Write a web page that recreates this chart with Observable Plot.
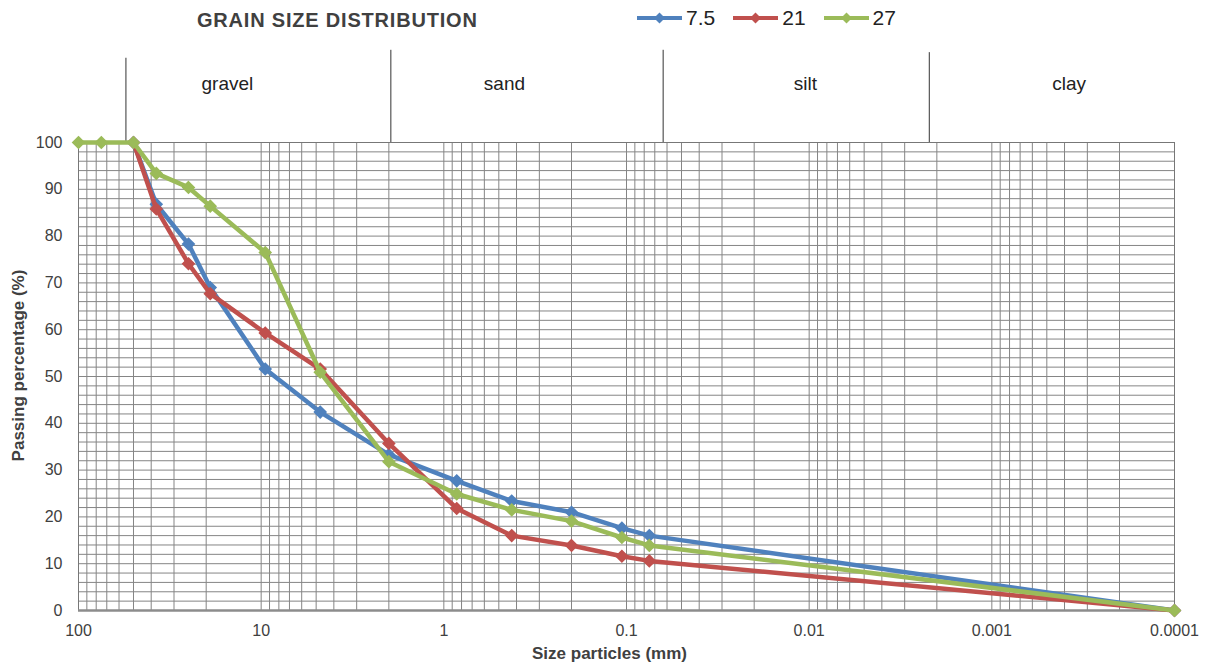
<!DOCTYPE html>
<html>
<head>
<meta charset="utf-8">
<script src="https://cdn.jsdelivr.net/npm/d3@7"></script>
<script src="https://cdn.jsdelivr.net/npm/@observablehq/plot@0.6"></script>
<style>
  body { margin: 0; background: #fff; font-family: "Liberation Sans", Arial, sans-serif; }
  #header { position: relative; width: 1207px; height: 40px; }
  #title { position: absolute; left: 197px; top: 8px; font-size: 20px; line-height: 24px; font-weight: bold; color: #404040; letter-spacing: 0.8px; white-space: nowrap; }
  #legend { position: absolute; left: 637px; top: 6px; height: 24px; display: flex; align-items: center; font-size: 21px; color: #222; }
  .item { display: flex; align-items: center; margin-right: 18px; }
  .item svg { margin-right: 4px; }
</style>
</head>
<body>
<div id="header">
  <div id="title">GRAIN SIZE DISTRIBUTION</div>
  <div id="legend"></div>
</div>
<div id="chart"></div>
<script>
// ---- data ----
const seriesNames = ["7.5", "21", "27"];
const seriesColors = ["#4F81BD", "#C0504D", "#9BBB59"];

const sizes75 = [50, 37.5, 25, 19, 9.5, 4.75, 2, 0.85, 0.425, 0.2, 0.106, 0.075, 0.0001];
const pass75  = [100, 86.8, 78.3, 69.0, 51.6, 42.4, 33.3, 27.7, 23.4, 21.0, 17.6, 16.0, 0];

const sizes21 = [50, 37.5, 25, 19, 9.5, 4.75, 2, 0.85, 0.425, 0.2, 0.106, 0.075, 0.0001];
const pass21  = [100, 85.8, 74.1, 67.7, 59.3, 51.6, 35.7, 21.8, 16.0, 13.9, 11.6, 10.6, 0];

const sizes27 = [100, 75, 50, 37.5, 25, 19, 9.5, 4.75, 2, 0.85, 0.425, 0.2, 0.106, 0.075, 0.0001];
const pass27  = [100, 100, 100, 93.4, 90.4, 86.4, 76.5, 50.9, 31.8, 24.9, 21.5, 19.1, 15.6, 13.9, 0];

const xTicks = [100, 10, 1, 0.1, 0.01, 0.001, 0.0001];
const xTickLabels = ["100", "10", "1", "0.1", "0.01", "0.001", "0.0001"];
const yTicks = [0, 10, 20, 30, 40, 50, 60, 70, 80, 90, 100];

const zoneNames = ["gravel", "sand", "silt", "clay"];
const zoneLabelSize = [15.3, 0.466, 0.0105, 0.000377];
const zoneBoundaries = [55, 1.95, 0.063, 0.0022];
const boundaryTop = [118, 119.7, 119.7, 119.2];

// ---- build rows ----
const allSizes = [sizes75, sizes21, sizes27];
const allPass = [pass75, pass21, pass27];
const rows = [];
seriesNames.forEach((s, i) => {
  allSizes[i].forEach((sz, j) => rows.push({series: s, size: sz, pct: allPass[i][j]}));
});

// gridlines (log minor: 1..9 x 10^k)
const minorX = [];
for (let e = -4; e <= 1; e++) for (let k = 1; k <= 9; k++) minorX.push(k * Math.pow(10, e));
minorX.push(100);
const gridY = d3.range(0, 101, 2);

const boundaries = zoneBoundaries.map((b, i) => ({b, top: boundaryTop[i]}));
const zones = zoneNames.map((n, i) => ({n, x: zoneLabelSize[i]}));

const seriesMarks = seriesNames.flatMap((s, i) => {
  const d = rows.filter(r => r.series === s);
  return [
    Plot.line(d, {x: "size", y: "pct", stroke: seriesColors[i], strokeWidth: 4.5, strokeLinejoin: "round"}),
    Plot.dot(d, {x: "size", y: "pct", fill: seriesColors[i], stroke: seriesColors[i], symbol: "diamond2", r: 5.2})
  ];
});

const chart = Plot.plot({
  width: 1207,
  height: 628,
  marginTop: 102,
  marginBottom: 58,
  marginLeft: 78,
  marginRight: 33,
  style: {fontFamily: "'Liberation Sans', Arial, sans-serif", background: "#fff", color: "#404040", overflow: "visible"},
  x: {type: "log", domain: [100, 0.0001]},
  y: {domain: [0, 100]},
  marks: [
    Plot.ruleX(minorX, {y1: 0, y2: 100, stroke: "#858585", strokeWidth: 1}),
    Plot.ruleY(gridY, {stroke: "#858585", strokeWidth: 1}),
    Plot.frame({stroke: "#777"}),
    Plot.ruleY([0], {stroke: "#8c8c8c", strokeWidth: 2.5}),
    Plot.ruleX(boundaries, {x: "b", y1: 100, y2: "top", stroke: "#333", strokeWidth: 1}),
    Plot.text(zones, {x: "x", y: 112.5, text: "n", fontSize: 19, fill: "#222"}),
    ...seriesMarks,
    Plot.axisX({ticks: xTicks, tickSize: 0, tickPadding: 14, fontSize: 16, fill: "#404040",
      tickFormat: d => xTickLabels[xTicks.indexOf(d)], label: null}),
    Plot.axisY({ticks: yTicks, tickSize: 0, tickPadding: 16, fontSize: 16, fill: "#404040", label: null}),
    Plot.text(["Size particles (mm)"], {frameAnchor: "bottom", dx: -17, dy: 48, fontSize: 17, fontWeight: "bold", fill: "#404040"}),
    Plot.text(["Passing percentage (%)"], {frameAnchor: "left", textAnchor: "middle", rotate: -90, dx: -60, dy: -11, fontSize: 17, fontWeight: "bold", fill: "#404040"})
  ]
});
document.getElementById("chart").appendChild(chart);

// legend
const legend = document.getElementById("legend");
seriesNames.forEach((s, i) => {
  const item = document.createElement("div");
  item.className = "item";
  item.innerHTML = `<svg width="45" height="14"><line x1="0" y1="7" x2="45" y2="7" stroke="${seriesColors[i]}" stroke-width="4"/><path d="M22.5,1.5L28,7L22.5,12.5L17,7Z" fill="${seriesColors[i]}"/></svg><span>${s}</span>`;
  legend.appendChild(item);
});
</script>
</body>
</html>
